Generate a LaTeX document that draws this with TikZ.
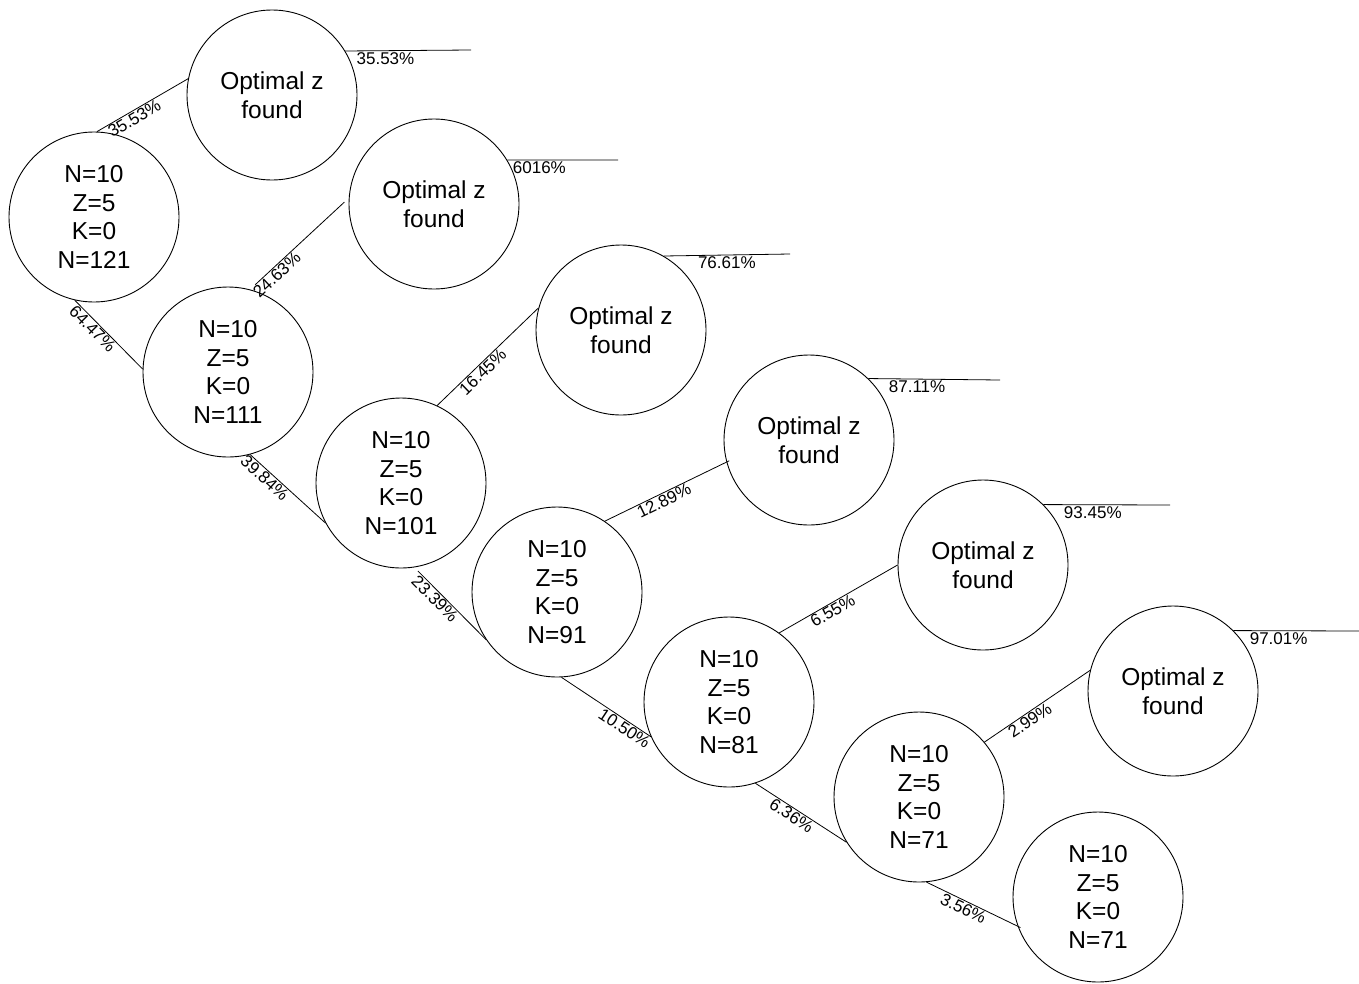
\documentclass[tikz,border=0pt]{standalone}
\usepackage{fontspec}
\setmainfont{Liberation Sans}
\begin{document}
\begin{tikzpicture}[x=1pt,y=-1pt,
  state/.style={draw, circle, line width=0.9pt, minimum size=170pt, inner sep=0pt, align=center,
    font=\fontsize{24.5}{28.5}\selectfont},
  conn/.style={line width=0.8pt},
  lbl/.style={font=\fontsize{17}{18}\selectfont, inner sep=1pt, sloped},
  hlbl/.style={font=\fontsize{17}{18}\selectfont, inner sep=1.5pt}]
\useasboundingbox (0,0) rectangle (1359,983);

\node[state] (A)  at (94,217)   {N=10\\Z=5\\K=0\\N=121};
\node[state] (O1) at (272,95)   {Optimal z\\found};
\node[state] (B)  at (228,372)  {N=10\\Z=5\\K=0\\N=111};
\node[state] (O2) at (434,204)  {Optimal z\\found};
\node[state] (C)  at (401,483)  {N=10\\Z=5\\K=0\\N=101};
\node[state] (O3) at (621,330)  {Optimal z\\found};
\node[state] (D)  at (557,592)  {N=10\\Z=5\\K=0\\N=91};
\node[state] (O4) at (809,440)  {Optimal z\\found};
\node[state] (E)  at (729,702)  {N=10\\Z=5\\K=0\\N=81};
\node[state] (O5) at (983,565)  {Optimal z\\found};
\node[state] (F)  at (919,797)  {N=10\\Z=5\\K=0\\N=71};
\node[state] (O6) at (1173,691) {Optimal z\\found};
\node[state] (G)  at (1098,897) {N=10\\Z=5\\K=0\\N=71};

\coordinate (e1) at (471,50);
\coordinate (e2) at (618,160);
\coordinate (e3) at (790,254);
\coordinate (e4) at (1000,380);
\coordinate (e5) at (1170,505);
\coordinate (e6) at (1359,631);

% branches
\draw[conn] (A.88) -- (O1.169) node[lbl, pos=0.37, below] {35.53\%};
\draw[conn] (A.257) -- (B.178) node[lbl, pos=0.34, below] {64.47\%};
\draw[conn, shorten <=7pt, shorten >=6pt] (B.75) -- (O2.176) node[lbl, pos=0.22, below] {24.63\%};
\draw[conn] (B.285) -- (C.208) node[lbl, pos=0.26, below] {39.84\%};
\draw[conn] (C.65) -- (O3.165) node[lbl, pos=0.40, below] {16.45\%};
\draw[conn, shorten <=5pt] (C.279) -- (D.214) node[lbl, pos=0.36, below] {23.39\%};
\draw[conn, shorten >=-3pt] (D.56) -- (O4.195) node[lbl, pos=0.46, below] {12.89\%};
\draw[conn] (D.273) -- (E.204) node[lbl, pos=0.75, below] {10.50\%};
\draw[conn] (E.54) -- (O5.180) node[lbl, pos=0.42, below] {6.55\%};
\draw[conn] (E.288) -- (F.212) node[lbl, pos=0.44, below] {6.36\%};
\draw[conn] (F.40) -- (O6.166) node[lbl, pos=0.39, below] {2.99\%};
\draw[conn, shorten >=-3pt] (F.275) -- (G.200) node[lbl, pos=0.44, below] {3.56\%};

% found-rate lines
\draw[conn] (O1.31) -- (e1) node[hlbl, pos=0.32, below] {35.53\%};
\draw[conn] (O2.31) -- (e2) node[hlbl, pos=0.29, below] {6016\%};
\draw[conn] (O3.60) -- (e3) node[hlbl, pos=0.50, below] {76.61\%};
\draw[conn] (O4.46) -- (e4) node[hlbl, pos=0.37, below] {87.11\%};
\draw[conn] (O5.45) -- (e5) node[hlbl, pos=0.39, below] {93.45\%};
\draw[conn] (O6.45) -- (e6) node[hlbl, pos=0.36, below] {97.01\%};
\end{tikzpicture}
\end{document}
